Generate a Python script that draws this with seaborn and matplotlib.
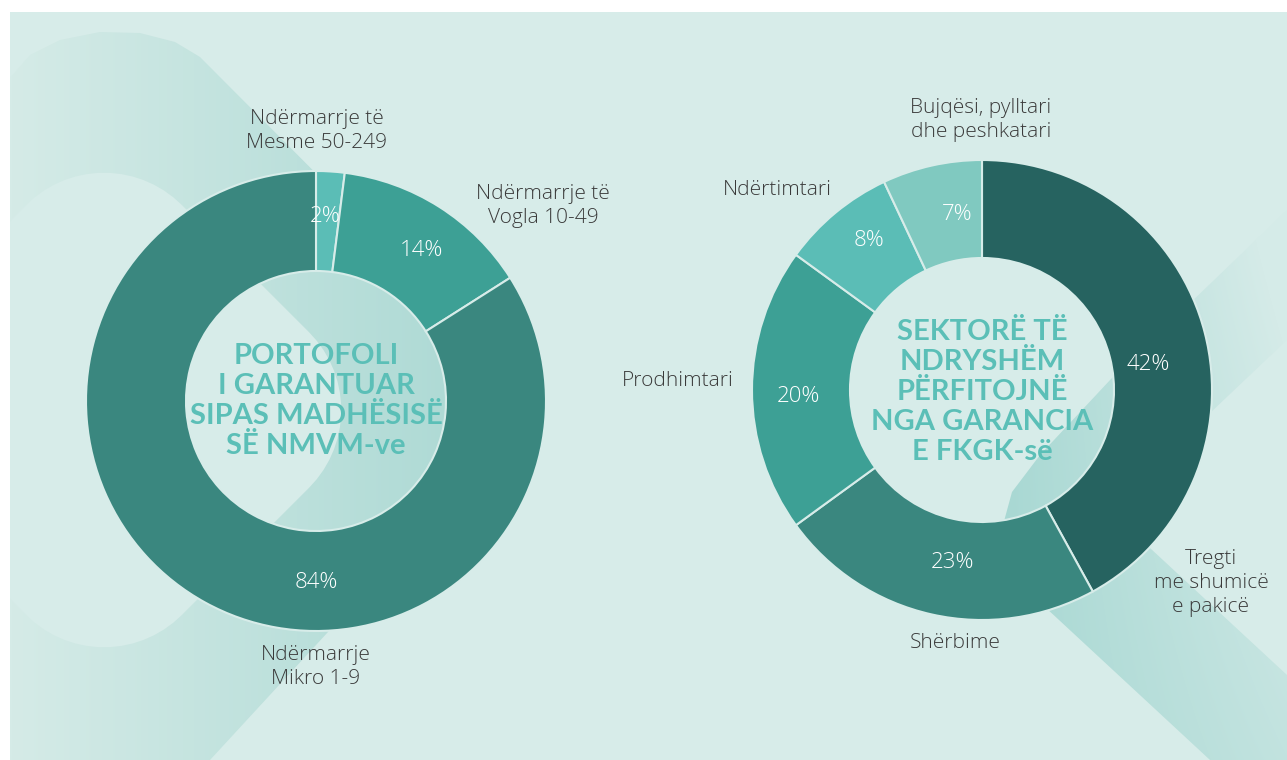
import numpy as np
import matplotlib.pyplot as plt
import seaborn as sns
from matplotlib.patches import Polygon, Rectangle
from matplotlib.colors import LinearSegmentedColormap

# -----------------------------
# Data
# -----------------------------
size_labels = ["Ndërmarrje të\nMesme 50-249", "Ndërmarrje të\nVogla 10-49", "Ndërmarrje\nMikro 1-9"]
size_share = [2, 14, 84]
size_title = "PORTOFOLI\nI GARANTUAR\nSIPAS MADHËSISË\nSË NMVM-ve"

sector_labels = ["Tregti\nme shumicë\ne pakicë", "Shërbime", "Prodhimtari",
                 "Ndërtimtari", "Bujqësi, pylltari\ndhe peshkatari"]
sector_share = [42, 23, 20, 8, 7]
sector_title = "SEKTORË TË\nNDRYSHËM\nPËRFITOJNË\nNGA GARANCIA\nE FKGK-së"

# -----------------------------
# Style
# -----------------------------
sns.set_theme(style="white")
plt.rcParams['font.family'] = ['Open Sans', 'DejaVu Sans']

W, H = 1287, 760
BASE = "#d7ece9"
TEXT = "#3a3a3a"
TITLE = "#5bbfb7"
size_colors = sns.color_palette(["#5bbdb6", "#3da095", "#3a877f"])
sector_colors = sns.color_palette(["#266360", "#3a877f", "#3da095", "#5bbdb6", "#80c9c0"])

# text positions in pixels (x, y from top)
size_label_pos = [(317, 131), (543, 206), (316, 667)]
size_pct_pos = [(325, 216), (421, 250), (316, 583)]
sector_label_pos = [(1211, 583), (955, 643), (678, 381), (777, 190), (981, 120)]
sector_pct_pos = [(1148, 365), (952, 563), (798, 397), (869, 241), (957, 215)]

fig = plt.figure(figsize=(W / 100, H / 100), dpi=100, facecolor="white")
ax = fig.add_axes([0, 0, 1, 1])


def flip(pts):
    return [(x, H - y) for x, y in pts]


def gradient_fill(pts, func, c0, c1, z):
    poly = Polygon(flip(pts), closed=True, facecolor="none", edgecolor="none")
    ax.add_patch(poly)
    X, Y = np.meshgrid(np.arange(W), np.arange(H))
    T = np.clip(func(X, Y), 0, 1)
    cmap = LinearSegmentedColormap.from_list("g", [c0, c1])
    im = ax.imshow(T, cmap=cmap, vmin=0, vmax=1, extent=(0, W, 0, H),
                   origin="upper", zorder=z, interpolation="bilinear")
    im.set_clip_path(poly)


def rounded_diamond(cx, cy, half, r, n=16):
    # square rotated 45 deg with rounded corners
    pts = []
    for ang in [0, 90, 180, 270]:
        a = np.radians(ang)
        d = half * np.sqrt(2) - r * np.sqrt(2)
        ccx, ccy = cx + d * np.cos(a), cy + d * np.sin(a)
        for t in np.linspace(a - np.pi / 4, a + np.pi / 4, n):
            pts.append((ccx + r * np.cos(t), ccy + r * np.sin(t)))
    return pts


# background panel
panel = Rectangle((10, 0), W - 10, H - 12, facecolor=BASE, edgecolor="none", zorder=0)
ax.add_patch(panel)

# left decoration (dark arms + light diamond)
left_shape = [(10, 78), (30, 55), (60, 40), (100, 32), (140, 33), (175, 42), (200, 57),
              (500, 358), (522, 395), (505, 440), (210, 760), (10, 760)]
gradient_fill(left_shape, lambda x, y: (x - 10) / 470, "#d5ebe7", "#acd9d4", 0.3)
diamond = Polygon(flip(rounded_diamond(104, 410, 200, 110)), closed=True,
                  facecolor=BASE, edgecolor="none", zorder=0.4)
ax.add_patch(diamond)
diamond.set_clip_path(panel)

# right decoration (chevron)
right_shape = [(1287, 210), (1111, 379), (1040, 455), (1012, 492), (1003, 525), (1010, 560),
               (1045, 607), (1210, 760), (1287, 760), (1287, 675), (1150, 548),
               (1111, 507), (1287, 340)]
gradient_fill(right_shape,
              lambda x, y: (x - 1000) / 250 * (1.0 - 0.5 * np.clip((y - 212) / 548, 0, 1)),
              "#a8d8d3", "#d5ebe8", 0.3)

# -----------------------------
# Donuts
# -----------------------------
pct = lambda p: f"{p:.0f}%"
_, _, size_auto = ax.pie(size_share, colors=size_colors, startangle=90, counterclock=False,
                         radius=230, center=(316, H - 401), autopct=pct,
                         wedgeprops=dict(width=100, edgecolor=BASE, linewidth=1.5),
                         textprops=dict(color="white", fontsize=16, fontweight="light"),
                         frame=True)

_, _, sector_auto = ax.pie(sector_share, colors=sector_colors, startangle=90, counterclock=False,
                           radius=230, center=(982, H - 390), autopct=pct,
                           wedgeprops=dict(width=98, edgecolor=BASE, linewidth=1.5),
                           textprops=dict(color="white", fontsize=16, fontweight="light"),
                           frame=True)

for t, (x, y) in zip(size_auto, size_pct_pos):
    t.set_position((x, H - y))
for t, (x, y) in zip(sector_auto, sector_pct_pos):
    t.set_position((x, H - y))

for lab, (x, y) in zip(size_labels, size_label_pos):
    ax.text(x, H - y, lab, ha="center", va="center", fontsize=15, fontweight="light",
            color=TEXT, linespacing=1.32)
for lab, (x, y) in zip(sector_labels, sector_label_pos):
    ax.text(x, H - y, lab, ha="center", va="center", fontsize=15, fontweight="light",
            color=TEXT, linespacing=1.28)

ax.text(316, H - 401, size_title, ha="center", va="center", fontsize=21,
        fontweight="bold", color=TITLE, linespacing=1.18, zorder=5, family=["Lato", "DejaVu Sans"])
ax.text(982, H - 392, sector_title, ha="center", va="center", fontsize=21,
        fontweight="bold", color=TITLE, linespacing=1.18, zorder=5, family=["Lato", "DejaVu Sans"])

ax.set_xlim(0, W)
ax.set_ylim(0, H)
ax.set_aspect("auto")
ax.set_axis_off()

fig.savefig("out.png", dpi=100, facecolor="white")
